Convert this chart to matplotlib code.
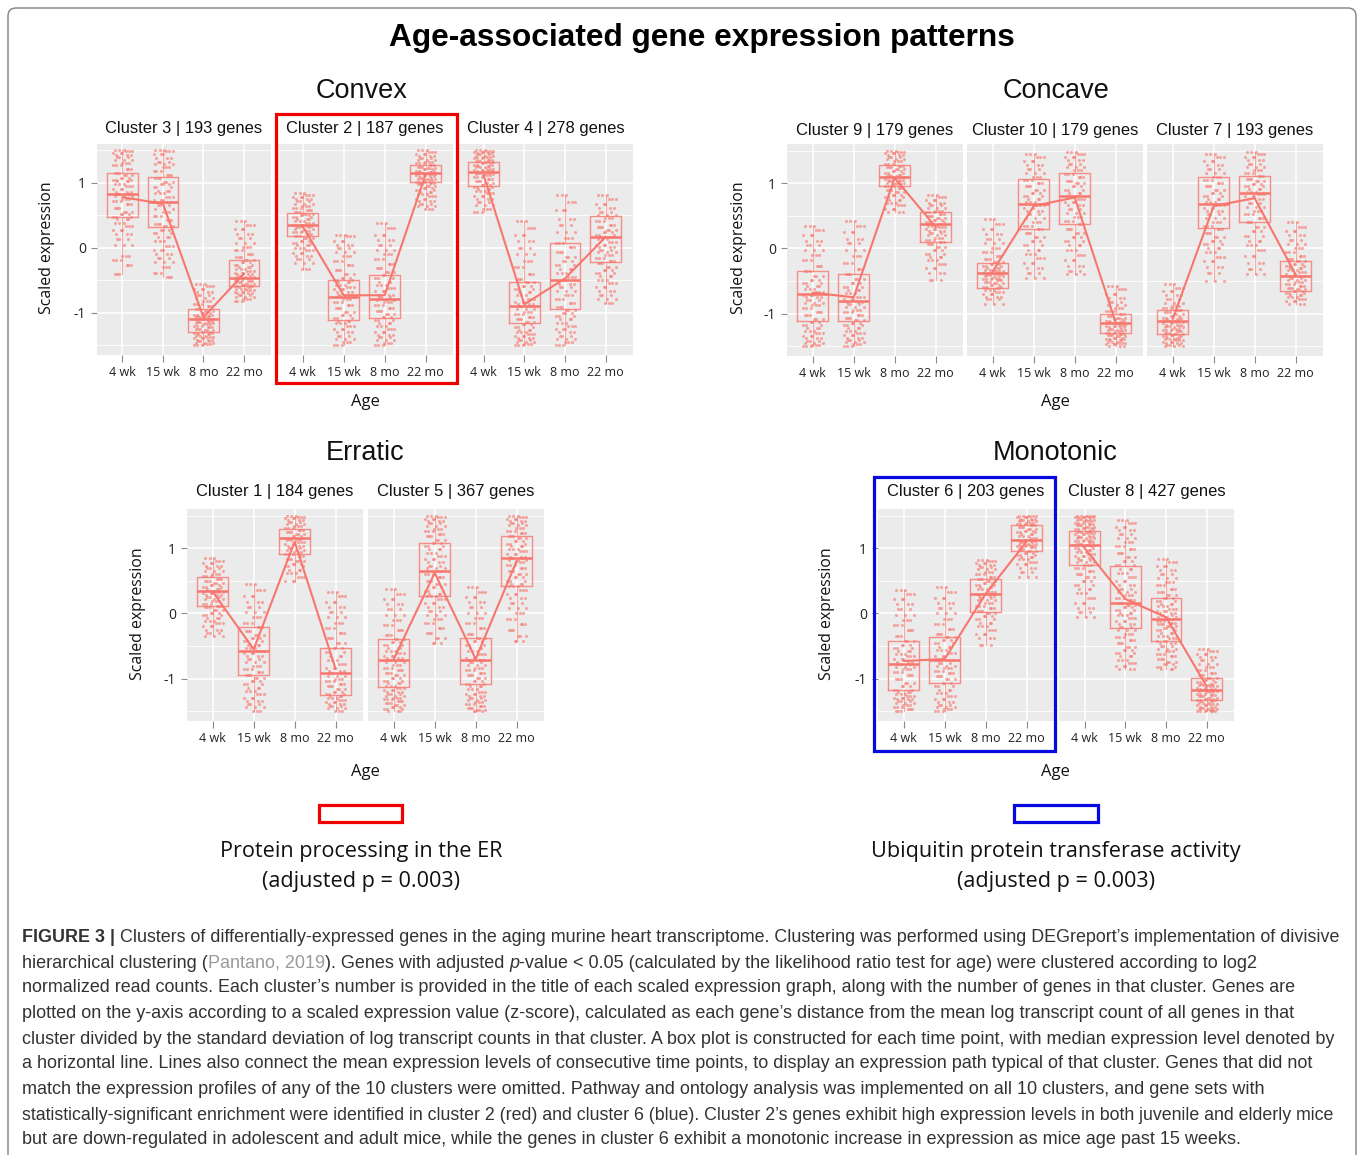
import matplotlib
matplotlib.use('Agg')
import matplotlib.pyplot as plt
from matplotlib.patches import Rectangle, FancyBboxPatch

W, H = 1358, 1155
SALMON = '#F8766D'

ages = ['4 wk', '15 wk', '8 mo', '22 mo']

# caixas: q1, mediana, q3 e media de cada idade
c3_box = [[0.47, 0.83, 1.15, 0.78], [0.32, 0.70, 1.09, 0.68], [-1.29, -1.09, -0.94, -1.07], [-0.59, -0.46, -0.18, -0.40]]
c2_box = [[0.18, 0.36, 0.54, 0.33], [-1.11, -0.75, -0.49, -0.73], [-1.08, -0.79, -0.42, -0.73], [1.01, 1.16, 1.27, 1.13]]
c4_box = [[0.95, 1.17, 1.32, 1.12], [-1.15, -0.90, -0.52, -0.87], [-0.94, -0.50, 0.08, -0.47], [-0.22, 0.17, 0.49, 0.17]]
c9_box = [[-1.12, -0.70, -0.35, -0.68], [-1.12, -0.80, -0.40, -0.75], [0.95, 1.10, 1.28, 1.08], [0.10, 0.38, 0.55, 0.33]]
c10_box = [[-0.60, -0.37, -0.22, -0.35], [0.29, 0.68, 1.06, 0.65], [0.37, 0.80, 1.15, 0.78], [-1.29, -1.15, -1.00, -1.13]]
c7_box = [[-1.31, -1.12, -0.95, -1.08], [0.31, 0.68, 1.09, 0.65], [0.40, 0.85, 1.11, 0.77], [-0.66, -0.42, -0.20, -0.40]]
c1_box = [[0.12, 0.35, 0.55, 0.33], [-0.95, -0.57, -0.21, -0.55], [0.91, 1.15, 1.30, 1.10], [-1.25, -0.92, -0.53, -0.85]]
c5_box = [[-1.13, -0.72, -0.39, -0.70], [0.27, 0.65, 1.08, 0.62], [-1.08, -0.72, -0.38, -0.70], [0.42, 0.85, 1.19, 0.80]]
c6_box = [[-1.17, -0.78, -0.43, -0.73], [-1.07, -0.71, -0.36, -0.70], [0.02, 0.30, 0.52, 0.30], [0.96, 1.13, 1.35, 1.10]]
c8_box = [[0.74, 1.05, 1.26, 1.00], [-0.22, 0.16, 0.72, 0.22], [-0.42, -0.08, 0.23, -0.06], [-1.33, -1.17, -0.99, -1.12]]

# pontos (estimados a olho) de cada idade
c3_pts = [
    [1.5, 1.49, 1.46, 1.43, 1.4, 1.36, 1.31, 1.27, 1.22, 1.16, 1.12, 1.08, 1.05, 1.03, 0.99, 0.95, 0.9, 0.86, 0.83, 0.8, 0.76, 0.72, 0.68, 0.62, 0.56, 0.52, 0.48, 0.44, 0.38, 0.33, 0.28, 0.21, 0.14, 0.05, -0.13, -0.19, -0.27, -0.4],
    [1.5, 1.49, 1.45, 1.38, 1.33, 1.29, 1.24, 1.18, 1.12, 1.08, 1.02, 0.98, 0.93, 0.88, 0.84, 0.79, 0.74, 0.7, 0.66, 0.6, 0.55, 0.49, 0.43, 0.37, 0.33, 0.28, 0.23, 0.17, 0.1, 0.03, -0.03, -0.1, -0.15, -0.22, -0.3, -0.38, -0.45],
    [-0.55, -0.58, -0.63, -0.68, -0.72, -0.77, -0.82, -0.86, -0.9, -0.94, -0.97, -1.0, -1.03, -1.05, -1.07, -1.09, -1.1, -1.12, -1.14, -1.16, -1.18, -1.2, -1.22, -1.25, -1.27, -1.29, -1.31, -1.33, -1.35, -1.37, -1.39, -1.42, -1.44, -1.46, -1.48, -1.5],
    [0.42, 0.36, 0.29, 0.22, 0.15, 0.08, 0.02, -0.04, -0.1, -0.14, -0.18, -0.22, -0.26, -0.29, -0.32, -0.35, -0.38, -0.41, -0.43, -0.45, -0.47, -0.49, -0.51, -0.53, -0.55, -0.57, -0.59, -0.61, -0.63, -0.65, -0.68, -0.7, -0.72, -0.75, -0.78, -0.82],
]
c2_pts = [
    [0.85, 0.82, 0.79, 0.75, 0.72, 0.68, 0.65, 0.62, 0.58, 0.55, 0.52, 0.5, 0.47, 0.44, 0.41, 0.39, 0.36, 0.34, 0.32, 0.29, 0.26, 0.24, 0.21, 0.18, 0.15, 0.11, 0.07, 0.04, 0.0, -0.04, -0.08, -0.12, -0.17, -0.23, -0.33],
    [0.2, 0.18, 0.1, 0.05, 0.0, -0.06, -0.12, -0.2, -0.27, -0.34, -0.41, -0.47, -0.5, -0.53, -0.57, -0.6, -0.64, -0.68, -0.72, -0.75, -0.79, -0.83, -0.88, -0.93, -0.98, -1.03, -1.08, -1.12, -1.16, -1.2, -1.25, -1.3, -1.35, -1.4, -1.45, -1.5],
    [0.38, 0.3, 0.2, 0.12, 0.05, -0.03, -0.1, -0.17, -0.25, -0.31, -0.37, -0.42, -0.47, -0.52, -0.57, -0.62, -0.67, -0.72, -0.76, -0.8, -0.84, -0.88, -0.93, -0.97, -1.02, -1.07, -1.11, -1.15, -1.2, -1.25, -1.3, -1.34, -1.38, -1.42, -1.46, -1.5],
    [1.5, 1.48, 1.45, 1.42, 1.39, 1.36, 1.33, 1.3, 1.27, 1.25, 1.23, 1.21, 1.19, 1.17, 1.16, 1.14, 1.12, 1.1, 1.08, 1.06, 1.04, 1.02, 1.0, 0.98, 0.95, 0.92, 0.89, 0.86, 0.83, 0.8, 0.76, 0.72, 0.68, 0.64, 0.6],
]
c4_pts = [
    [1.5, 1.49, 1.48, 1.46, 1.44, 1.42, 1.4, 1.38, 1.36, 1.34, 1.32, 1.3, 1.28, 1.26, 1.24, 1.22, 1.2, 1.18, 1.16, 1.14, 1.12, 1.09, 1.06, 1.03, 1.0, 0.97, 0.94, 0.91, 0.88, 0.84, 0.8, 0.76, 0.71, 0.66, 0.6, 0.55],
    [0.42, 0.3, 0.2, 0.1, 0.0, -0.1, -0.2, -0.3, -0.4, -0.48, -0.53, -0.58, -0.63, -0.68, -0.73, -0.78, -0.83, -0.87, -0.9, -0.94, -0.98, -1.02, -1.06, -1.1, -1.14, -1.18, -1.22, -1.26, -1.3, -1.33, -1.36, -1.39, -1.42, -1.45, -1.48, -1.5],
    [0.82, 0.7, 0.58, 0.45, 0.35, 0.25, 0.15, 0.08, 0.01, -0.07, -0.14, -0.2, -0.27, -0.33, -0.39, -0.45, -0.5, -0.55, -0.61, -0.67, -0.73, -0.79, -0.85, -0.91, -0.95, -1.0, -1.05, -1.1, -1.15, -1.2, -1.25, -1.3, -1.35, -1.4, -1.45, -1.5],
    [0.82, 0.75, 0.68, 0.62, 0.56, 0.5, 0.46, 0.41, 0.36, 0.32, 0.28, 0.24, 0.2, 0.17, 0.13, 0.09, 0.05, 0.01, -0.03, -0.07, -0.11, -0.15, -0.2, -0.24, -0.29, -0.34, -0.39, -0.44, -0.49, -0.54, -0.6, -0.66, -0.72, -0.78, -0.85],
]
c9_pts = [
    [0.35, 0.28, 0.2, 0.12, 0.05, -0.03, -0.1, -0.18, -0.27, -0.35, -0.42, -0.48, -0.53, -0.58, -0.63, -0.67, -0.71, -0.75, -0.79, -0.83, -0.87, -0.92, -0.97, -1.02, -1.08, -1.13, -1.18, -1.22, -1.26, -1.3, -1.34, -1.38, -1.42, -1.45, -1.48, -1.5],
    [0.42, 0.35, 0.25, 0.15, 0.08, -0.02, -0.12, -0.22, -0.32, -0.4, -0.47, -0.53, -0.59, -0.64, -0.69, -0.74, -0.78, -0.82, -0.86, -0.9, -0.94, -0.98, -1.02, -1.06, -1.1, -1.14, -1.18, -1.22, -1.26, -1.3, -1.33, -1.37, -1.4, -1.44, -1.47, -1.5],
    [1.5, 1.48, 1.46, 1.43, 1.4, 1.37, 1.34, 1.3, 1.27, 1.24, 1.21, 1.18, 1.16, 1.13, 1.11, 1.09, 1.07, 1.05, 1.03, 1.0, 0.98, 0.95, 0.92, 0.89, 0.86, 0.82, 0.78, 0.74, 0.7, 0.66, 0.6, 0.55],
    [0.82, 0.78, 0.74, 0.7, 0.66, 0.62, 0.58, 0.55, 0.52, 0.49, 0.46, 0.43, 0.4, 0.38, 0.35, 0.32, 0.29, 0.26, 0.23, 0.2, 0.16, 0.13, 0.1, 0.06, 0.02, -0.03, -0.08, -0.13, -0.18, -0.24, -0.3, -0.38, -0.48],
]
c10_pts = [
    [0.45, 0.38, 0.3, 0.22, 0.15, 0.08, 0.0, -0.06, -0.12, -0.17, -0.21, -0.24, -0.27, -0.3, -0.33, -0.35, -0.37, -0.39, -0.41, -0.43, -0.45, -0.47, -0.49, -0.51, -0.53, -0.56, -0.59, -0.61, -0.64, -0.67, -0.7, -0.74, -0.78, -0.85],
    [1.45, 1.4, 1.34, 1.28, 1.22, 1.16, 1.1, 1.05, 1.0, 0.95, 0.9, 0.85, 0.8, 0.75, 0.71, 0.67, 0.62, 0.57, 0.52, 0.46, 0.4, 0.34, 0.29, 0.23, 0.17, 0.11, 0.05, -0.02, -0.08, -0.15, -0.22, -0.3, -0.38, -0.45],
    [1.48, 1.44, 1.4, 1.35, 1.3, 1.25, 1.2, 1.14, 1.09, 1.04, 1.0, 0.95, 0.9, 0.85, 0.8, 0.76, 0.71, 0.66, 0.6, 0.54, 0.48, 0.42, 0.37, 0.3, 0.24, 0.18, 0.12, 0.05, -0.02, -0.1, -0.18, -0.27, -0.35, -0.4],
    [-0.58, -0.63, -0.7, -0.76, -0.82, -0.87, -0.92, -0.96, -1.0, -1.03, -1.06, -1.09, -1.11, -1.13, -1.15, -1.17, -1.19, -1.21, -1.23, -1.25, -1.27, -1.29, -1.31, -1.33, -1.35, -1.37, -1.39, -1.41, -1.43, -1.45, -1.47, -1.5],
]
c7_pts = [
    [-0.55, -0.6, -0.66, -0.72, -0.78, -0.83, -0.88, -0.92, -0.95, -0.98, -1.01, -1.04, -1.07, -1.09, -1.11, -1.13, -1.15, -1.17, -1.19, -1.21, -1.23, -1.25, -1.27, -1.29, -1.31, -1.33, -1.35, -1.37, -1.39, -1.41, -1.43, -1.45, -1.48, -1.5],
    [1.45, 1.4, 1.34, 1.28, 1.22, 1.16, 1.1, 1.05, 1.0, 0.95, 0.9, 0.85, 0.8, 0.75, 0.71, 0.67, 0.62, 0.57, 0.52, 0.46, 0.4, 0.35, 0.3, 0.24, 0.18, 0.12, 0.06, 0.0, -0.06, -0.13, -0.2, -0.28, -0.38, -0.5],
    [1.48, 1.44, 1.4, 1.35, 1.3, 1.25, 1.2, 1.15, 1.11, 1.07, 1.03, 0.99, 0.95, 0.91, 0.87, 0.84, 0.8, 0.75, 0.7, 0.64, 0.58, 0.52, 0.46, 0.4, 0.33, 0.26, 0.19, 0.12, 0.05, -0.03, -0.12, -0.22, -0.32, -0.4],
    [0.4, 0.33, 0.26, 0.2, 0.13, 0.07, 0.01, -0.05, -0.11, -0.16, -0.2, -0.24, -0.27, -0.3, -0.33, -0.36, -0.39, -0.42, -0.45, -0.48, -0.51, -0.54, -0.57, -0.6, -0.63, -0.66, -0.69, -0.72, -0.75, -0.78, -0.81, -0.85],
]
c1_pts = [
    [0.85, 0.81, 0.77, 0.73, 0.69, 0.65, 0.61, 0.57, 0.53, 0.5, 0.47, 0.44, 0.41, 0.38, 0.35, 0.33, 0.31, 0.28, 0.25, 0.22, 0.19, 0.15, 0.12, 0.09, 0.05, 0.01, -0.03, -0.07, -0.11, -0.15, -0.2, -0.25, -0.3, -0.35],
    [0.45, 0.36, 0.27, 0.18, 0.1, 0.02, -0.06, -0.14, -0.21, -0.27, -0.33, -0.38, -0.43, -0.48, -0.53, -0.57, -0.61, -0.65, -0.7, -0.75, -0.8, -0.85, -0.9, -0.95, -0.99, -1.04, -1.09, -1.14, -1.19, -1.24, -1.29, -1.34, -1.39, -1.44, -1.5],
    [1.5, 1.48, 1.46, 1.43, 1.4, 1.37, 1.34, 1.31, 1.28, 1.25, 1.22, 1.19, 1.16, 1.14, 1.12, 1.09, 1.06, 1.03, 1.0, 0.97, 0.94, 0.91, 0.88, 0.84, 0.8, 0.76, 0.72, 0.67, 0.62, 0.56, 0.5],
    [0.33, 0.26, 0.18, 0.1, 0.02, -0.06, -0.14, -0.22, -0.3, -0.38, -0.46, -0.53, -0.59, -0.65, -0.71, -0.77, -0.83, -0.88, -0.92, -0.96, -1.0, -1.04, -1.08, -1.12, -1.16, -1.2, -1.24, -1.27, -1.3, -1.33, -1.36, -1.39, -1.42, -1.45, -1.5],
]
c5_pts = [
    [0.38, 0.3, 0.22, 0.14, 0.06, -0.02, -0.1, -0.18, -0.26, -0.33, -0.39, -0.44, -0.49, -0.53, -0.57, -0.61, -0.65, -0.69, -0.72, -0.75, -0.79, -0.83, -0.87, -0.91, -0.95, -0.99, -1.03, -1.07, -1.11, -1.14, -1.17, -1.2, -1.23, -1.26, -1.29, -1.32, -1.35, -1.38, -1.41, -1.44, -1.47, -1.5],
    [1.5, 1.47, 1.44, 1.41, 1.38, 1.34, 1.3, 1.26, 1.22, 1.18, 1.13, 1.08, 1.03, 0.98, 0.93, 0.88, 0.83, 0.78, 0.73, 0.69, 0.65, 0.6, 0.55, 0.5, 0.45, 0.4, 0.35, 0.3, 0.27, 0.22, 0.16, 0.1, 0.04, -0.02, -0.08, -0.15, -0.22, -0.3, -0.38, -0.45],
    [0.4, 0.33, 0.25, 0.17, 0.09, 0.01, -0.07, -0.15, -0.23, -0.31, -0.38, -0.43, -0.48, -0.53, -0.58, -0.63, -0.68, -0.72, -0.75, -0.79, -0.83, -0.87, -0.91, -0.95, -0.99, -1.03, -1.08, -1.12, -1.16, -1.2, -1.24, -1.27, -1.3, -1.33, -1.36, -1.39, -1.42, -1.45, -1.48, -1.5],
    [1.5, 1.47, 1.44, 1.41, 1.38, 1.35, 1.31, 1.27, 1.23, 1.19, 1.15, 1.11, 1.07, 1.03, 0.99, 0.95, 0.91, 0.87, 0.85, 0.82, 0.78, 0.74, 0.7, 0.65, 0.6, 0.55, 0.5, 0.45, 0.42, 0.36, 0.3, 0.23, 0.16, 0.08, 0.0, -0.08, -0.17, -0.26, -0.35, -0.42],
]
c6_pts = [
    [0.36, 0.3, 0.22, 0.14, 0.06, -0.02, -0.1, -0.18, -0.26, -0.34, -0.43, -0.48, -0.53, -0.58, -0.62, -0.66, -0.7, -0.74, -0.78, -0.82, -0.86, -0.9, -0.95, -1.0, -1.06, -1.12, -1.17, -1.2, -1.23, -1.26, -1.29, -1.32, -1.35, -1.38, -1.41, -1.44, -1.47, -1.5],
    [0.4, 0.32, 0.24, 0.16, 0.08, 0.0, -0.08, -0.16, -0.24, -0.31, -0.36, -0.41, -0.46, -0.51, -0.56, -0.61, -0.66, -0.71, -0.76, -0.8, -0.84, -0.88, -0.92, -0.96, -1.01, -1.07, -1.12, -1.17, -1.22, -1.27, -1.32, -1.36, -1.4, -1.44, -1.47, -1.5],
    [0.82, 0.8, 0.77, 0.74, 0.71, 0.68, 0.64, 0.6, 0.56, 0.52, 0.49, 0.46, 0.43, 0.4, 0.37, 0.33, 0.3, 0.27, 0.24, 0.2, 0.16, 0.12, 0.08, 0.04, 0.01, -0.04, -0.09, -0.14, -0.19, -0.25, -0.31, -0.38, -0.48],
    [1.5, 1.49, 1.47, 1.45, 1.43, 1.41, 1.39, 1.37, 1.35, 1.32, 1.29, 1.26, 1.24, 1.21, 1.18, 1.15, 1.13, 1.11, 1.09, 1.07, 1.05, 1.03, 1.01, 0.98, 0.96, 0.93, 0.9, 0.87, 0.83, 0.79, 0.75, 0.7, 0.64, 0.55],
]
c8_pts = [
    [1.5, 1.49, 1.48, 1.47, 1.45, 1.43, 1.41, 1.39, 1.37, 1.35, 1.33, 1.31, 1.29, 1.27, 1.25, 1.23, 1.21, 1.19, 1.17, 1.15, 1.13, 1.11, 1.09, 1.07, 1.05, 1.03, 1.0, 0.97, 0.94, 0.91, 0.88, 0.85, 0.82, 0.78, 0.74, 0.7, 0.65, 0.6, 0.55, 0.5, 0.44, 0.38, 0.31, 0.24, 0.16, 0.08, 0.02, -0.05],
    [1.43, 1.38, 1.33, 1.28, 1.22, 1.16, 1.1, 1.04, 0.98, 0.92, 0.86, 0.8, 0.74, 0.68, 0.62, 0.56, 0.5, 0.44, 0.38, 0.33, 0.28, 0.24, 0.2, 0.16, 0.13, 0.09, 0.05, 0.01, -0.03, -0.07, -0.11, -0.16, -0.21, -0.26, -0.31, -0.36, -0.41, -0.46, -0.51, -0.56, -0.61, -0.66, -0.71, -0.76, -0.8, -0.85],
    [0.83, 0.78, 0.72, 0.66, 0.6, 0.54, 0.48, 0.43, 0.38, 0.33, 0.28, 0.23, 0.19, 0.15, 0.11, 0.07, 0.03, 0.0, -0.03, -0.06, -0.08, -0.11, -0.14, -0.17, -0.2, -0.23, -0.26, -0.3, -0.34, -0.38, -0.42, -0.46, -0.5, -0.54, -0.58, -0.62, -0.66, -0.7, -0.74, -0.78, -0.82, -0.85],
    [-0.55, -0.58, -0.62, -0.67, -0.72, -0.77, -0.82, -0.87, -0.91, -0.95, -0.99, -1.02, -1.05, -1.08, -1.1, -1.12, -1.14, -1.16, -1.17, -1.19, -1.21, -1.23, -1.25, -1.27, -1.29, -1.31, -1.33, -1.35, -1.37, -1.39, -1.41, -1.43, -1.45, -1.47, -1.48, -1.49, -1.5],
]

# deslocamento horizontal dos pontos, repetido ao longo de cada faixa
jitter = [-0.19, 0.08, -0.04, 0.21, -0.13, 0.03, 0.16, -0.23, 0.11, -0.08, 0.24, -0.01, -0.16, 0.14]
# cada valor estimado representa varios genes: desenhado em tres posicoes da faixa
jitter_steps = [0, 5, 9]

caption = [
    [('FIGURE 3 | ', 'bold', '#333333', 'normal'), ('Clusters of differentially-expressed genes in the aging murine heart transcriptome. Clustering was performed using DEGreport\u2019s implementation of divisive', 'normal', '#333333', 'normal')],
    [('hierarchical clustering (', 'normal', '#333333', 'normal'), ('Pantano, 2019', 'normal', '#9a9a9a', 'normal'), ('). Genes with adjusted ', 'normal', '#333333', 'normal'), ('p', 'normal', '#333333', 'italic'), ('-value < 0.05 (calculated by the likelihood ratio test for age) were clustered according to log2', 'normal', '#333333', 'normal')],
    [('normalized read counts. Each cluster\u2019s number is provided in the title of each scaled expression graph, along with the number of genes in that cluster. Genes are', 'normal', '#333333', 'normal')],
    [('plotted on the y-axis according to a scaled expression value (z-score), calculated as each gene\u2019s distance from the mean log transcript count of all genes in that', 'normal', '#333333', 'normal')],
    [('cluster divided by the standard deviation of log transcript counts in that cluster. A box plot is constructed for each time point, with median expression level denoted by', 'normal', '#333333', 'normal')],
    [('a horizontal line. Lines also connect the mean expression levels of consecutive time points, to display an expression path typical of that cluster. Genes that did not', 'normal', '#333333', 'normal')],
    [('match the expression profiles of any of the 10 clusters were omitted. Pathway and ontology analysis was implemented on all 10 clusters, and gene sets with', 'normal', '#333333', 'normal')],
    [('statistically-significant enrichment were identified in cluster 2 (red) and cluster 6 (blue). Cluster 2\u2019s genes exhibit high expression levels in both juvenile and elderly mice', 'normal', '#333333', 'normal')],
    [('but are down-regulated in adolescent and adult mice, while the genes in cluster 6 exhibit a monotonic increase in expression as mice age past 15 weeks.', 'normal', '#333333', 'normal')],
]
caption_y = [936, 961, 986, 1012, 1037, 1062, 1088, 1113, 1138]
caption_size = [12.88, 12.94, 12.91, 12.95, 13.0, 12.93, 12.98, 12.77, 12.97]

fig = plt.figure(figsize=(W / 100, H / 100), dpi=100, facecolor='white')


def panel(x0, x1, y0, y1, title, boxes, pts, show_y, title_y):
    ax = fig.add_axes([x0 / W, 1 - y1 / H, (x1 - x0) / W, (y1 - y0) / H])
    ax.set_facecolor('#EBEBEB')
    ax.set_xlim(-0.63, 3.67)
    ax.set_ylim(-1.65, 1.6)
    for s in ax.spines.values():
        s.set_visible(False)
    ax.set_axisbelow(True)
    ax.set_yticks([-1, 0, 1])
    ax.set_yticks([-1.5, -0.5, 0.5, 1.5], minor=True)
    ax.set_xticks(range(4))
    ax.grid(True, which='major', color='white', lw=1.1)
    ax.grid(True, which='minor', axis='y', color='white', lw=0.6)
    ax.tick_params(axis='x', length=5, width=0.8, color='#8a8a8a', pad=3, labelsize=9, labelcolor='#222222')
    ax.tick_params(axis='y', which='major', length=4, width=0.8, color='#8a8a8a', pad=4, labelsize=10, labelcolor='#222222', left=show_y, labelleft=show_y)
    ax.tick_params(axis='y', which='minor', length=0)
    ax.set_xticklabels(ages, fontfamily='Open Sans')
    if show_y:
        ax.set_yticklabels(['-1', '0', '1'], fontfamily='Open Sans')

    for i, vals in enumerate(pts):
        for step in jitter_steps:
            xs = [i + jitter[(k + step) % len(jitter)] for k in range(len(vals))]
            ax.scatter(xs, vals, s=5, color=SALMON, alpha=0.6, lw=0, zorder=2)

    stats = [{'q1': b[0], 'med': b[1], 'q3': b[2], 'whislo': min(p), 'whishi': max(p), 'fliers': []} for b, p in zip(boxes, pts)]
    ax.bxp(stats, positions=range(4), widths=0.75, showfliers=False, showcaps=False, manage_ticks=False, zorder=3,
           boxprops=dict(color=SALMON, lw=1.0, alpha=0.8),
           whiskerprops=dict(color=SALMON, lw=0.8, alpha=0.6),
           medianprops=dict(color=SALMON, lw=1.8))
    ax.plot(range(4), [b[3] for b in boxes], color=SALMON, lw=1.5, zorder=4)
    ax.text((x0 + x1) / 2 / W, 1 - title_y / H, title, transform=fig.transFigure, ha='center', va='center',
            fontsize=11.85, fontfamily='Liberation Sans', color='#111111')
    return ax


panel(97, 271, 144, 355, 'Cluster 3 | 193 genes', c3_box, c3_pts, True, 129)
panel(277, 453, 144, 355, 'Cluster 2 | 187 genes', c2_box, c2_pts, False, 129)
panel(458, 633, 144, 355, 'Cluster 4 | 278 genes', c4_box, c4_pts, False, 129)
panel(787, 963, 144, 356, 'Cluster 9 | 179 genes', c9_box, c9_pts, True, 130)
panel(967, 1143, 144, 356, 'Cluster 10 | 179 genes', c10_box, c10_pts, False, 130)
panel(1147, 1323, 144, 356, 'Cluster 7 | 193 genes', c7_box, c7_pts, False, 130)
panel(187, 363, 509, 721, 'Cluster 1 | 184 genes', c1_box, c1_pts, True, 492)
panel(368, 544, 509, 721, 'Cluster 5 | 367 genes', c5_box, c5_pts, False, 492)
panel(878, 1054, 509, 721, 'Cluster 6 | 203 genes', c6_box, c6_pts, True, 492)
panel(1059, 1234, 509, 721, 'Cluster 8 | 427 genes', c8_box, c8_pts, False, 492)

# camada por cima em coordenadas de pixel: textos e molduras
top = fig.add_axes([0, 0, 1, 1], zorder=10)
top.set_xlim(0, W)
top.set_ylim(H, 0)
top.axis('off')
top.patch.set_alpha(0)

top.add_patch(FancyBboxPatch((8, 8), 1348, 1300, boxstyle='round,pad=0,rounding_size=8', fc='none', ec='#808080', lw=1.0, clip_on=True))
top.add_patch(Rectangle((275.5, 113.5), 181, 269, fc='none', ec='#F00000', lw=2.3))
top.add_patch(Rectangle((874, 476.5), 181, 274, fc='none', ec='#0808E0', lw=2.3))
top.add_patch(Rectangle((319, 805), 83, 17, fc='none', ec='#F00000', lw=2.3))
top.add_patch(Rectangle((1014, 805), 84, 17, fc='none', ec='#0808E0', lw=2.3))

top.text(702, 38, 'Age-associated gene expression patterns', ha='center', va='center', fontsize=22.8, fontweight='bold', fontfamily='Liberation Sans', color='black')
for x, y, s in [(362, 91, 'Convex'), (1056, 91, 'Concave'), (365, 453, 'Erratic'), (1055, 453, 'Monotonic')]:
    top.text(x, y, s, ha='center', va='center', fontsize=19.5, fontfamily='Liberation Sans', color='#111111')
for x, y in [(365, 402), (1055, 402), (365, 772), (1055, 772)]:
    top.text(x, y, 'Age', ha='center', va='center', fontsize=12, fontfamily='Open Sans', color='#111111')
for x, y in [(47, 248), (739, 248), (138, 614), (827, 614)]:
    top.text(x, y, 'Scaled expression', rotation=90, ha='center', va='center', fontsize=11.4, fontfamily='Open Sans', color='#111111')

for x, a, b in [(361, 'Protein processing in the ER', '(adjusted p = 0.003)'), (1056, 'Ubiquitin protein transferase activity', '(adjusted p = 0.003)')]:
    top.text(x, 852, a, ha='center', va='center', fontsize=15.6, fontfamily='Open Sans', color='#111111')
    top.text(x, 881, b, ha='center', va='center', fontsize=15.6, fontfamily='Open Sans', color='#111111')

renderer = fig.canvas.get_renderer()
for y, size, spans in zip(caption_y, caption_size, caption):
    x = 22
    for s, weight, col, style in spans:
        t = top.text(x, y, s, ha='left', va='center_baseline', fontsize=size, fontfamily='Liberation Sans', fontweight=weight, fontstyle=style, color=col)
        x += t.get_window_extent(renderer).width

fig.savefig('out.png', dpi=100)
